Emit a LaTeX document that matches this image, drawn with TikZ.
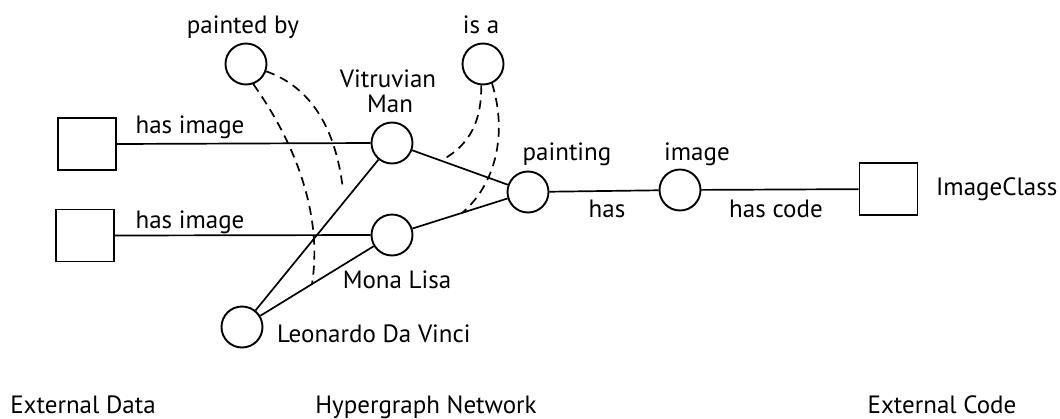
\documentclass[tikz,border=0pt]{standalone}
\usepackage{fontspec}
\setmainfont{PT Sans}
\begin{document}
\begin{tikzpicture}[x=1pt,y=-1pt,
  every node/.style={font=\fontsize{25}{27}\selectfont},
  ent/.style={circle,draw,line width=1.9pt,minimum size=41pt,inner sep=0pt},
  ext/.style={rectangle,draw,line width=1.9pt,minimum width=58pt,minimum height=52pt,inner sep=0pt},
  link/.style={line width=1.7pt},
  rel/.style={line width=1.7pt,dash pattern=on 9pt off 6pt},
  lbl/.style={inner sep=0pt,anchor=base}]
\useasboundingbox (0,0) rectangle (1060,418);
\fill[white] (0,0) rectangle (1060,418);

% external data and code boxes
\node[ext] (d1) at (87,144) {};
\node[ext] (d2) at (85,235.5) {};
\node[ext] (cls) at (888.5,189) {};

% hypergraph vertices
\node[ent] (pb) at (246,64) {};
\node[ent] (isa) at (483,64) {};
\node[ent] (vm) at (392,143) {};
\node[ent] (ml) at (392,235) {};
\node[ent] (pt) at (528,192) {};
\node[ent] (img) at (680,190) {};
\node[ent] (ldv) at (242,327) {};

% labels
\node[lbl] (lpb) at (243,33) {painted by};
\node[lbl] (lisa) at (481,33) {is a};
\node[lbl] (lvm1) at (388,87) {Vitruvian};
\node[lbl] (lvm2) at (390,112) {Man};
\node[lbl] (lml) at (397,288) {Mona Lisa};
\node[lbl,anchor=base west] (lldv) at (277,342) {Leonardo Da Vinci};
\node[lbl] (lpt) at (567,160) {painting};
\node[lbl] (limg) at (697,160) {image};
\node[lbl] (lhas) at (607,217) {has};
\node[lbl] (lcode) at (776,217) {has code};
\node[lbl,anchor=base west] (lcls) at (936,195) {ImageClass};
\node[lbl] (lh1) at (190,133) {has image};
\node[lbl] (lh2) at (190,228) {has image};

% column captions
\node[lbl] (cap1) at (83,413) {External Data};
\node[lbl] (cap2) at (426,413) {Hypergraph Network};
\node[lbl] (cap3) at (942,413) {External Code};

% solid connections
\draw[link] (d1.east) -- (vm.west);
\draw[link] (d2.east) -- (ml.west);
\draw[link] (vm) -- (pt);
\draw[link] (ml) -- (pt);
\draw[link] (ldv) -- (vm);
\draw[link] (ldv) -- (ml);
\draw[link] (pt) -- (img);
\draw[link] (img) -- (cls);

% dashed relation curves
\coordinate (ea) at (343,190);
\coordinate (eb) at (312,284);
\coordinate (ec) at (442,160);
\coordinate (ed) at (462,213);
\draw[rel] (pb.-20) .. controls (305,85) and (335,120) .. (ea);
\draw[rel] (pb.-70) .. controls (300,150) and (322,220) .. (eb);
\draw[rel] (isa.-95) .. controls (482,120) and (470,145) .. (ec);
\draw[rel] (isa.-65) .. controls (508,135) and (495,185) .. (ed);
\end{tikzpicture}
\end{document}
